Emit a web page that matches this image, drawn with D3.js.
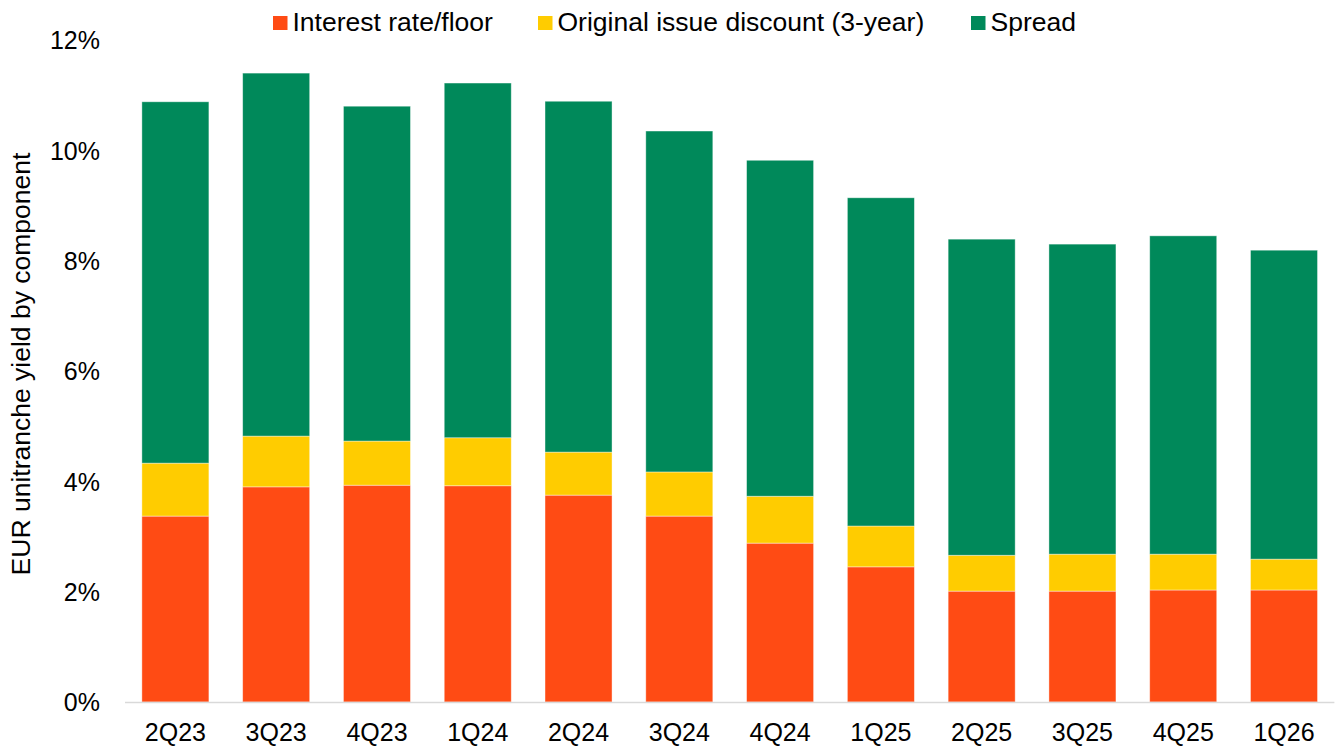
<!DOCTYPE html>
<html><head><meta charset="utf-8">
<script src="https://cdn.jsdelivr.net/npm/d3@7"></script>
<style>body{margin:0;background:#fff}text{font-family:Arial,"Liberation Sans",sans-serif;fill:#000}</style>
</head><body><svg id="c" width="1339" height="747"></svg>
<script>
const categories = ["2Q23","3Q23","4Q23","1Q24","2Q24","3Q24","4Q24","1Q25","2Q25","3Q25","4Q25","1Q26"];
const interestRate = [3.37,3.90,3.93,3.92,3.75,3.37,2.88,2.45,2.01,2.01,2.03,2.03];
const oid = [0.96,0.92,0.80,0.87,0.78,0.80,0.85,0.74,0.65,0.67,0.65,0.56];
const spread = [6.55,6.58,6.07,6.43,6.36,6.18,6.09,5.95,5.73,5.62,5.77,5.60];
const seriesNames = ["Interest rate/floor","Original issue discount (3-year)","Spread"];
const colors = ["#FF4B14","#FFCC00","#00895A"];
const yTicks = [0,2,4,6,8,10,12];

const svg = d3.select("#c");
const W=1339,H=747;
const m={left:125,right:4.6,top:40,bottom:45};
const x=d3.scaleBand().domain(categories).range([m.left,W-m.right]).paddingInner(0.335).paddingOuter(0.1675);
const y=d3.scaleLinear().domain([0,12]).range([702,40]);

const data=categories.map((c,i)=>({cat:c,s0:interestRate[i],s1:oid[i],s2:spread[i]}));
const stack=d3.stack().keys(["s0","s1","s2"])(data);

svg.append("g").selectAll("g").data(stack).join("g").attr("fill",(d,i)=>colors[i])
 .selectAll("rect").data(d=>d).join("rect")
 .attr("x",d=>x(d.data.cat)).attr("width",x.bandwidth())
 .attr("y",d=>y(d[1])).attr("height",d=>y(d[0])-y(d[1]))
 .attr("stroke","rgba(255,255,255,0.5)").attr("stroke-width",0.8);

// x axis line
svg.append("line").attr("x1",m.left).attr("x2",W-m.right).attr("y1",y(0)+0.5).attr("y2",y(0)+0.5).attr("stroke","#d9d9d9").attr("stroke-width",1.3);

const fs=25;
const xa=svg.append("g").attr("transform",`translate(0,${y(0)})`).call(d3.axisBottom(x).tickSize(0).tickPadding(0));
xa.select(".domain").remove();
xa.selectAll("text").attr("font-size",fs).attr("dy",null).attr("y",39).attr("font-family","Arial, 'Liberation Sans', sans-serif");

const ya=svg.append("g").attr("transform",`translate(100,0)`).call(d3.axisLeft(y).tickValues(yTicks).tickFormat(d=>d+"%").tickSize(0).tickPadding(0));
ya.select(".domain").remove();
ya.selectAll("text").attr("font-size",fs).attr("dy","0.35em").attr("font-family","Arial, 'Liberation Sans', sans-serif");

svg.append("text").attr("transform","translate(30,364) rotate(-90)").attr("text-anchor","middle").attr("font-size",26.5).text("EUR unitranche yield by component");

// legend
const lg=svg.append("g");
const legendX=[273,538,971];
seriesNames.forEach((n,i)=>{
  lg.append("rect").attr("x",legendX[i]).attr("y",16).attr("width",14.5).attr("height",14).attr("fill",colors[i]);
  lg.append("text").attr("x",legendX[i]+19.5).attr("y",31).attr("font-size",26.5).text(n);
});
</script></body></html>
